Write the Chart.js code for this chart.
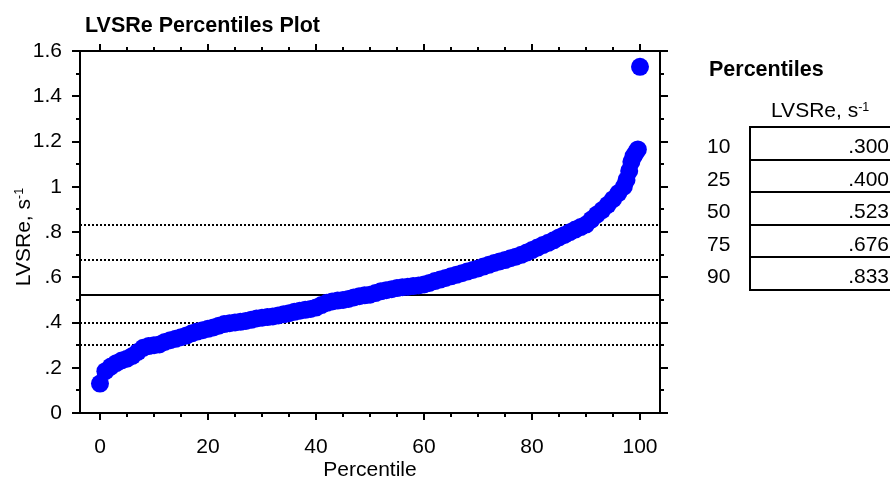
<!DOCTYPE html>
<html>
<head>
  <title>LVSRe Percentiles Plot</title>
  <script src="https://cdn.jsdelivr.net/npm/chart.js"></script>
  <style>
    body {
      margin: 0;
      background: #fff;
      font-family: "Liberation Sans", Arial, sans-serif;
      overflow: hidden;
    }
    #wrap {
      position: relative;
      width: 890px;
      height: 478px;
      overflow: hidden;
    }
    #chart {
      position: absolute;
      left: 0;
      top: 0;
    }
    .label {
      position: absolute;
      white-space: nowrap;
      color: #000;
      line-height: 1;
    }
    #plotTitle { left: 85px; top: 15px; font-size: 21.5px; font-weight: bold; }
    #pctTitle { left: 709px; top: 59px; font-size: 21.5px; font-weight: bold; }
    #pctHead { left: 771px; top: 99px; font-size: 21px; }
    #pctHead sup { font-size: 12.5px; vertical-align: 6px; line-height: 0; }
    #pctBox {
      position: absolute;
      left: 749px;
      top: 126px;
      width: 148px;
      border-top: 2px solid #000;
      border-left: 2px solid #000;
    }
    .pctRow {
      height: 30.5px;
      line-height: 36px;
      border-bottom: 2px solid #000;
      text-align: right;
      padding-right: 10px;
      font-size: 21px;
      overflow: visible;
    }
    .pctLevel {
      position: absolute;
      left: 707px;
      font-size: 21px;
      line-height: 36px;
      height: 30.5px;
    }
  </style>
</head>
<body>
  <div id="wrap">
    <canvas id="chart" width="890" height="478"></canvas>
    <div id="plotTitle" class="label">LVSRe Percentiles Plot</div>
    <div id="pctTitle" class="label">Percentiles</div>
    <div id="pctHead" class="label">LVSRe, s<sup>-1</sup></div>
    <div id="pctBox"></div>
  </div>

  <script>
    // sorted LVSRe values against their percentile rank
    const percentiles = [
      0, 1, 2, 3, 4, 5, 6, 7, 8, 9,
      10, 11, 12, 13, 14, 15, 16, 17, 18, 19,
      20, 21, 22, 23, 24, 25, 26, 27, 28, 29,
      30, 31, 32, 33, 34, 35, 36, 37, 38, 39,
      40, 41, 42, 43, 44, 45, 46, 47, 48, 49,
      50, 51, 52, 53, 54, 55, 56, 57, 58, 59,
      60, 61, 62, 63, 64, 65, 66, 67, 68, 69,
      70, 71, 72, 73, 74, 75, 76, 77, 78, 79,
      80, 81, 82, 83, 84, 85, 86, 87, 88, 89,
      90, 91, 92, 93, 94, 95, 96, 97, 97.5, 98,
      98.4, 98.8, 99.2, 99.6, 100
    ];
    const lvsre = [
      0.13, 0.185, 0.205, 0.22, 0.232, 0.24, 0.252, 0.27, 0.288, 0.296,
      0.300, 0.303, 0.314, 0.322, 0.328, 0.335, 0.342, 0.352, 0.36, 0.366,
      0.372, 0.378, 0.386, 0.393, 0.397, 0.400, 0.403, 0.407, 0.412, 0.418,
      0.421, 0.424, 0.427, 0.431, 0.436, 0.441, 0.447, 0.452, 0.456, 0.46,
      0.466, 0.477, 0.487, 0.493, 0.497, 0.500, 0.504, 0.511, 0.516, 0.52,
      0.523, 0.53, 0.538, 0.543, 0.547, 0.552, 0.556, 0.558, 0.561, 0.564,
      0.568, 0.575, 0.583, 0.59, 0.597, 0.604, 0.611, 0.618, 0.625, 0.632,
      0.639, 0.647, 0.655, 0.663, 0.670, 0.676, 0.684, 0.691, 0.699, 0.709,
      0.72, 0.731, 0.742, 0.752, 0.763, 0.776, 0.787, 0.799, 0.811, 0.822,
      0.833, 0.855, 0.877, 0.897, 0.92, 0.945, 0.972, 1.0, 1.03, 1.07,
      1.11, 1.135, 1.15, 1.165, 1.53
    ];

    // summary table, also used for the reference lines
    const pctLevels = [10, 25, 50, 75, 90];
    const pctValues = [0.300, 0.400, 0.523, 0.676, 0.833];
    const medianLevel = 50;

    // build the percentile table
    const box = document.getElementById("pctBox");
    const wrap = document.getElementById("wrap");
    pctLevels.forEach((lvl, i) => {
      const row = document.createElement("div");
      row.className = "pctRow";
      row.textContent = pctValues[i].toFixed(3).replace(/^0\./, ".");
      box.appendChild(row);

      const lab = document.createElement("div");
      lab.className = "pctLevel";
      lab.style.top = (128 + i * 32.5) + "px";
      lab.textContent = lvl;
      wrap.appendChild(lab);
    });

    const FONT = "'Liberation Sans', Arial, sans-serif";

    // frame, outside tick marks and reference lines
    const framePlugin = {
      id: "frame",
      beforeDatasetsDraw(chart) {
        const { ctx, chartArea: a, scales: { y } } = chart;
        ctx.save();
        ctx.strokeStyle = "#000";
        ctx.lineWidth = 2;
        pctLevels.forEach((lvl, i) => {
          const py = Math.round(y.getPixelForValue(pctValues[i]));
          ctx.setLineDash(lvl === medianLevel ? [] : [2, 2]);
          ctx.beginPath();
          ctx.moveTo(a.left, py);
          ctx.lineTo(a.right, py);
          ctx.stroke();
        });
        ctx.restore();
      },
      afterDraw(chart) {
        const { ctx, chartArea: a, scales: { x, y } } = chart;
        ctx.save();
        ctx.strokeStyle = "#000";
        ctx.lineWidth = 2;
        ctx.strokeRect(a.left, a.top, a.right - a.left, a.bottom - a.top);

        ctx.beginPath();
        for (let v = 0; v <= 100; v += 5) {
          const px = Math.round(x.getPixelForValue(v));
          const len = v % 20 === 0 ? 7 : 4;
          ctx.moveTo(px, a.bottom);
          ctx.lineTo(px, a.bottom + len);
          ctx.moveTo(px, a.top);
          ctx.lineTo(px, a.top - len);
        }
        for (let k = 0; k <= 16; k++) {
          const py = Math.round(y.getPixelForValue(k / 10));
          const len = k % 2 === 0 ? 8 : 4;
          ctx.moveTo(a.left, py);
          ctx.lineTo(a.left - len, py);
          ctx.moveTo(a.right, py);
          ctx.lineTo(a.right + len, py);
        }
        ctx.stroke();

        // y axis title with superscript unit
        const main = "LVSRe, s";
        const sup = "-1";
        ctx.fillStyle = "#000";
        ctx.textBaseline = "alphabetic";
        ctx.textAlign = "left";
        ctx.font = "21px " + FONT;
        const w1 = ctx.measureText(main).width;
        ctx.font = "12.5px " + FONT;
        const w2 = ctx.measureText(sup).width;
        ctx.translate(30, (a.top + a.bottom) / 2 + 5);
        ctx.rotate(-Math.PI / 2);
        ctx.font = "21px " + FONT;
        ctx.fillText(main, -(w1 + w2) / 2, 0);
        ctx.font = "12.5px " + FONT;
        ctx.fillText(sup, -(w1 + w2) / 2 + w1, -7);
        ctx.restore();
      }
    };

    new Chart(document.getElementById("chart").getContext("2d"), {
      type: "scatter",
      data: {
        datasets: [{
          label: "LVSRe",
          data: percentiles.map((p, i) => ({ x: p, y: lvsre[i] })),
          backgroundColor: "#0000ff",
          borderWidth: 0,
          pointRadius: 9,
          pointHoverRadius: 9
        }]
      },
      options: {
        responsive: false,
        animation: false,
        layout: { padding: { top: 51, right: 230, left: 0, bottom: 0 } },
        plugins: {
          legend: { display: false },
          tooltip: { enabled: false }
        },
        scales: {
          x: {
            type: "linear",
            min: -3.7,
            max: 103.7,
            afterFit(scale) { scale.height = 65; },
            grid: { display: false, drawTicks: false },
            border: { display: false },
            ticks: {
              stepSize: 20,
              includeBounds: false,
              padding: 22,
              color: "#000",
              font: { size: 21, family: FONT }
            },
            title: {
              display: true,
              text: "Percentile",
              color: "#000",
              font: { size: 21, family: FONT, lineHeight: 1 },
              padding: { top: 0, bottom: -3 }
            }
          },
          y: {
            min: 0,
            max: 1.6,
            afterFit(scale) { scale.width = 80; },
            grid: { display: false, drawTicks: false },
            border: { display: false },
            ticks: {
              stepSize: 0.2,
              padding: 18,
              color: "#000",
              font: { size: 21, family: FONT },
              callback: v => String(+v.toFixed(1)).replace(/^0\./, ".")
            }
          }
        }
      },
      plugins: [framePlugin]
    });
  </script>
</body>
</html>
